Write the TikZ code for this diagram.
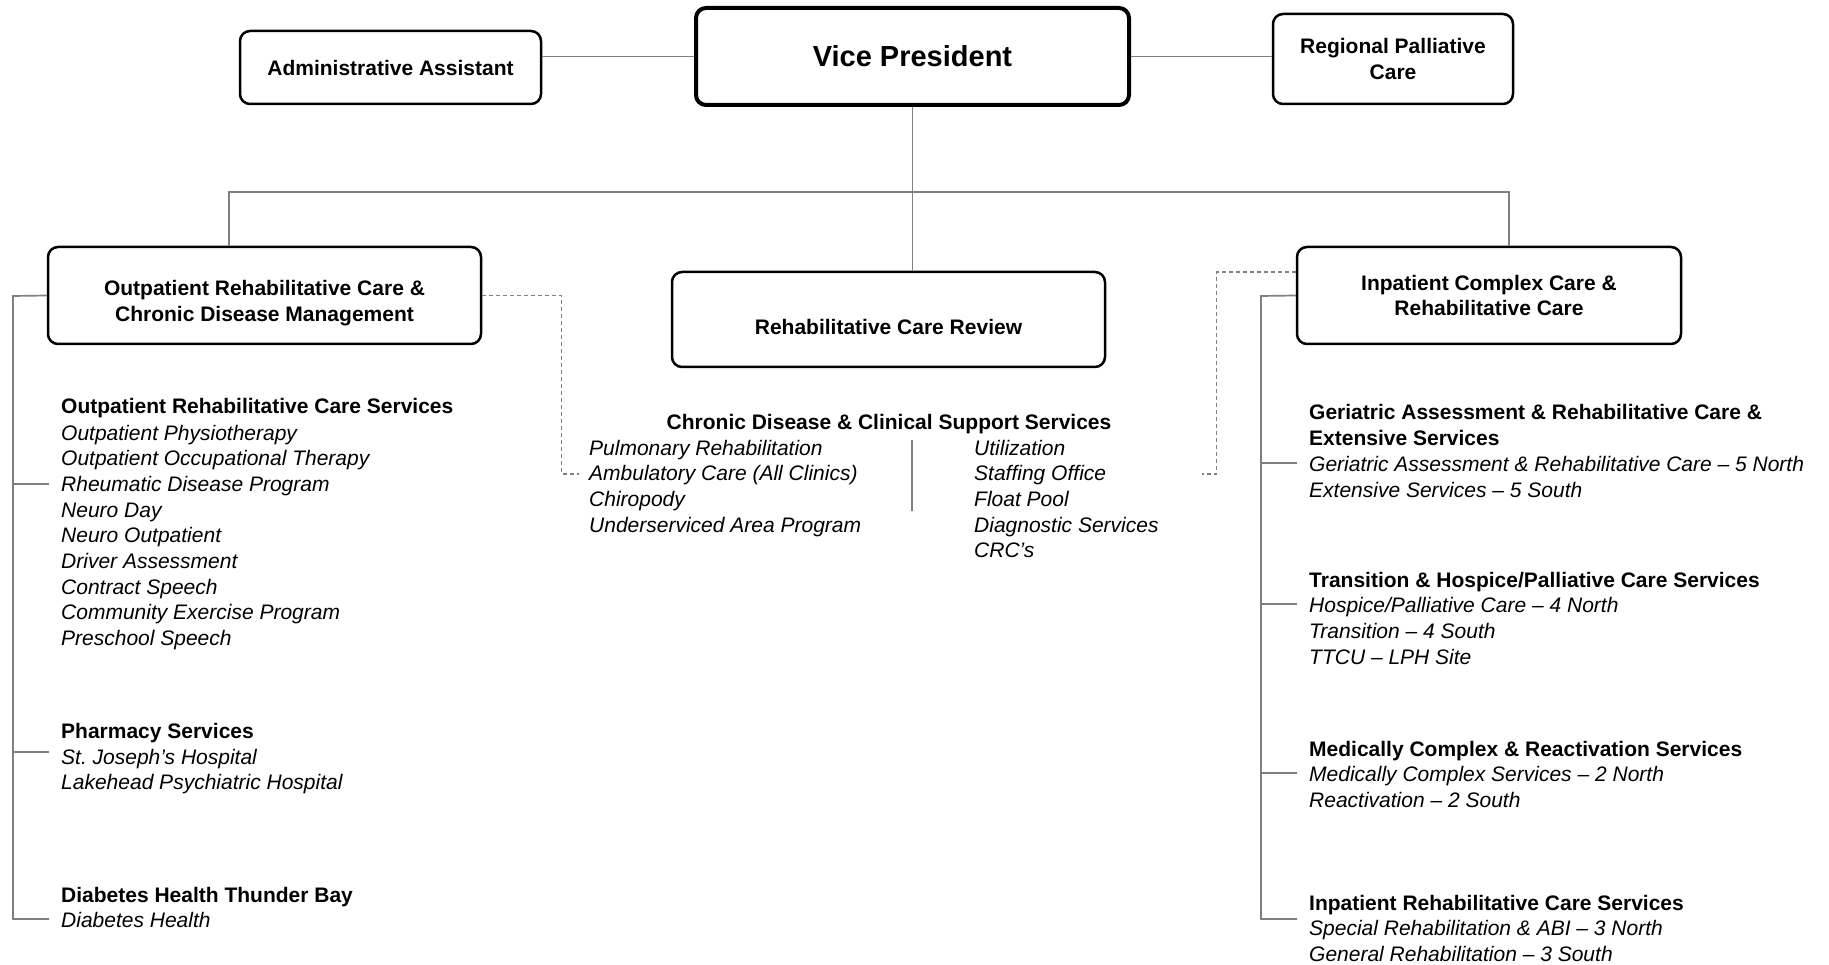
\documentclass[tikz,border=0pt]{standalone}
\usepackage{fontspec}
\setmainfont{Liberation Sans}
\frenchspacing
\usetikzlibrary{positioning}
\tikzstyle{box} = [rectangle, rounded corners=10pt, draw=black, line width=2.5pt, align=center, font=\fontsize{21}{25.7}\selectfont\bfseries]
\tikzstyle{topbox} = [box, line width=4pt, font=\fontsize{29}{34}\selectfont\bfseries]
\tikzstyle{conn} = [draw=gray, line width=1.7pt]
\tikzstyle{dconn} = [draw=gray, line width=1.2pt, dash pattern=on 4pt off 3pt]
\tikzstyle{grphead} = [anchor=base west, inner sep=0pt, font=\fontsize{21}{25.7}\selectfont\bfseries]
\tikzstyle{grpitem} = [anchor=base west, inner sep=0pt, font=\fontsize{21}{25.7}\selectfont\itshape]

\begin{document}
\begin{tikzpicture}[x=1pt, y=-1pt]
    \useasboundingbox (0,0) rectangle (1829,965);

    \node(vp)[topbox, minimum width=433pt, minimum height=97pt] at (912.5,56.5) {Vice President};
    \node(admin)[box, minimum width=301pt, minimum height=73pt] at (390.5,67.5) {Administrative Assistant};
    \node(regional)[box, minimum width=240pt, minimum height=90pt] at (1393,59) {Regional Palliative\\Care};

    \node(outpatient)[box, minimum width=433pt, minimum height=97pt] at (264.5,295.5) {\rule{0pt}{31pt}Outpatient Rehabilitative Care \&\\Chronic Disease Management};
    \node(review)[box, minimum width=433pt, minimum height=95pt] at (888.5,319.5) {\rule{0pt}{30pt}Rehabilitative Care Review};
    \node(inpatient)[box, minimum width=384pt, minimum height=97pt] at (1489,295.5) {Inpatient Complex Care \&\\Rehabilitative Care};

    \draw[conn] (admin.east |- vp.west) -- (vp.west);
    \draw[conn] (vp.east) -- (regional.west |- vp.east);
    \coordinate(barl) at (229,192);
    \coordinate(barr) at (1509,192);
    \draw[conn] (vp.south) -- (review.north -| vp.south);
    \draw[conn] (outpatient.north -| barl) -- (barl) -- (barr) -- (inpatient.north -| barr);

    % left column
    \node(orcs)[grphead] at (61,414) {Outpatient Rehabilitative Care Services};
    \foreach \t [count=\i from 0] in {Outpatient Physiotherapy, Outpatient Occupational Therapy, Rheumatic Disease Program, Neuro Day, Neuro Outpatient, Driver Assessment, Contract Speech, Community Exercise Program, Preschool Speech}
        \node(orcs\i)[grpitem] at (61,440+25.7*\i) {\t};
    \node(pharm)[grphead] at (61,738) {Pharmacy Services};
    \foreach \t [count=\i from 0] in {St. Joseph’s Hospital, Lakehead Psychiatric Hospital}
        \node(pharm\i)[grpitem] at (61,764+25.7*\i) {\t};
    \node(diab)[grphead] at (61,902) {Diabetes Health Thunder Bay};
    \node(diab0)[grpitem] at (61,927.7) {Diabetes Health};

    \coordinate(lsp) at (13,296);
    \coordinate(lb1) at (49,484);
    \coordinate(lb2) at (49,752);
    \coordinate(lb3) at (49,919);
    \draw[conn] (outpatient.west) -- (lsp) |- (lb3);
    \draw[conn] (lsp |- lb1) -- (lb1);
    \draw[conn] (lsp |- lb2) -- (lb2);

    % middle column
    \node(cdcs)[grphead, anchor=base] at (889,429) {Chronic Disease \& Clinical Support Services};
    \foreach \t [count=\i from 0] in {Pulmonary Rehabilitation, Ambulatory Care (All Clinics), Chiropody, Underserviced Area Program}
        \node(cdcsl\i)[grpitem] at (589,455+25.7*\i) {\t};
    \foreach \t [count=\i from 0] in {Utilization, Staffing Office, Float Pool, Diagnostic Services, CRC’s}
        \node(cdcsr\i)[grpitem] at (974,455+25.7*\i) {\t};
    \draw[conn] (912,440) -- (912,511);

    \coordinate(dlend) at (579,474);
    \coordinate(drend) at (1202,474);
    \draw[dconn] (outpatient.east) -- ++(79,0) |- (dlend);
    \draw[dconn] ([yshift=23.5pt]inpatient.west) -- ++(-79,0) |- (drend);

    % right column
    \node(geri)[grphead] at (1309,420) {Geriatric Assessment \& Rehabilitative Care \&};
    \node(geri0)[grphead] at (1309,445.7) {Extensive Services};
    \node(geri1)[grpitem] at (1309,471.4) {Geriatric Assessment \& Rehabilitative Care – 5 North};
    \node(geri2)[grpitem] at (1309,497.1) {Extensive Services – 5 South};
    \node(trans)[grphead] at (1309,587) {Transition \& Hospice/Palliative Care Services};
    \foreach \t [count=\i from 0] in {Hospice/Palliative Care – 4 North, Transition – 4 South, TTCU – LPH Site}
        \node(trans\i)[grpitem] at (1309,612.7+25.7*\i) {\t};
    \node(medc)[grphead] at (1309,756) {Medically Complex \& Reactivation Services};
    \foreach \t [count=\i from 0] in {Medically Complex Services – 2 North, Reactivation – 2 South}
        \node(medc\i)[grpitem] at (1309,781.7+25.7*\i) {\t};
    \node(irehab)[grphead] at (1309,910) {Inpatient Rehabilitative Care Services};
    \foreach \t [count=\i from 0] in {Special Rehabilitation \& ABI – 3 North, General Rehabilitation – 3 South}
        \node(irehab\i)[grpitem] at (1309,935.7+25.7*\i) {\t};

    \coordinate(rsp) at (1261,296);
    \coordinate(rb1) at (1297,463);
    \coordinate(rb2) at (1297,604);
    \coordinate(rb3) at (1297,773);
    \coordinate(rb4) at (1297,919);
    \draw[conn] (inpatient.west) -- (rsp) |- (rb4);
    \draw[conn] (rsp |- rb1) -- (rb1);
    \draw[conn] (rsp |- rb2) -- (rb2);
    \draw[conn] (rsp |- rb3) -- (rb3);
\end{tikzpicture}
\end{document}
